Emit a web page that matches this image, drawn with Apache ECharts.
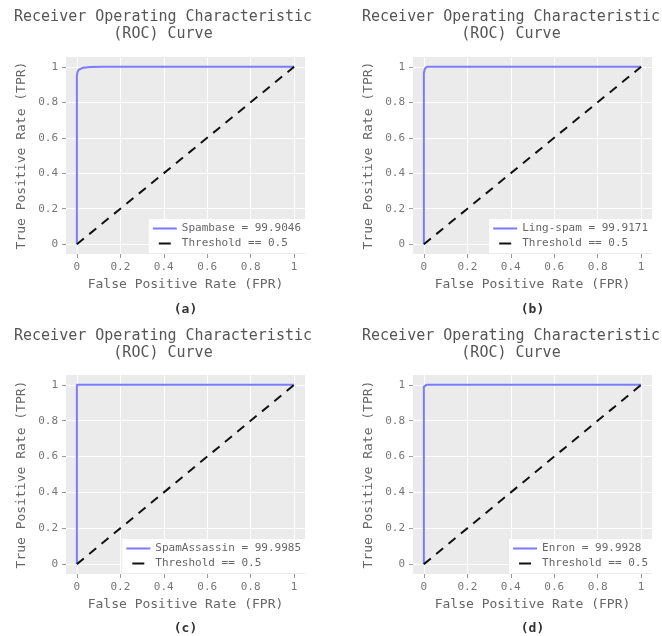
<!DOCTYPE html>
<html>
<head>
<meta charset="utf-8">
<script src="https://cdn.jsdelivr.net/npm/echarts@6/dist/echarts.min.js"></script>
<style>html,body{margin:0;padding:0;background:#fff}#c{width:662px;height:636px}</style>
</head>
<body>
<div id="c"></div>
<script>
// ---- data ----
const panelLabels = ['(a)', '(b)', '(c)', '(d)'];
const datasetNames = ['Spambase', 'Ling-spam', 'SpamAssassin', 'Enron'];
const aucValues = ['99.9046', '99.9171', '99.9985', '99.9928'];
const spambaseFPR = [0, 0, 0.003, 0.008, 0.015, 0.03, 0.06, 0.12, 1];
const spambaseTPR = [0, 0.95, 0.97, 0.983, 0.99, 0.995, 0.998, 1, 1];
const lingFPR = [0, 0, 0.005, 0.015, 0.5, 1];
const lingTPR = [0, 0.965, 0.99, 1, 1, 1];
const assassinFPR = [0, 0, 0.5, 1];
const assassinTPR = [0, 1, 1, 1];
const enronFPR = [0, 0, 0.012, 0.5, 1];
const enronTPR = [0, 0.99, 1, 1, 1];
const thresholdFPR = [0, 1];
const thresholdTPR = [0, 1];
const thresholdLabel = 'Threshold == 0.5';
const tickValues = [0, 0.2, 0.4, 0.6, 0.8, 1];
const tickLabels = ['0', '0.2', '0.4', '0.6', '0.8', '1'];
const titleLine1 = 'Receiver Operating Characteristic';
const titleLine2 = '(ROC) Curve';
const xTitle = 'False Positive Rate (FPR)';
const yTitle = 'True Positive Rate (TPR)';

const curves = [
  [spambaseFPR, spambaseTPR],
  [lingFPR, lingTPR],
  [assassinFPR, assassinTPR],
  [enronFPR, enronTPR]
];
const zip = (a, b) => a.map((v, i) => [v, b[i]]);

// ---- layout ----
const FONT = '"DejaVu Sans Mono", monospace';
const W = 662, H = 636;
const grids = [
  { left: 66, top: 57, width: 239, height: 197 },
  { left: 413, top: 57, width: 239, height: 197 },
  { left: 66, top: 375, width: 239, height: 199 },
  { left: 413, top: 375, width: 239, height: 199 }
];
const titleCenters = [163, 511];
const titleY = [[17, 34], [336, 353]];
const subY = [310, 629];
const BLUE = '#7b7bfa';

const option = {
  animation: false,
  backgroundColor: '#fff',
  grid: grids.map(g => ({ left: g.left, top: g.top, width: g.width, height: g.height,
    backgroundColor: '#ebebeb', show: true, borderWidth: 0, containLabel: false })),
  xAxis: grids.map((g, i) => ({
    gridIndex: i, type: 'value', min: -0.05, max: 1.05,
    name: xTitle, nameLocation: 'middle', nameGap: 24,
    nameTextStyle: { fontFamily: FONT, fontSize: 13, color: '#666' },
    axisLine: { show: false, onZero: false },
    axisTick: { show: true, length: 4, customValues: tickValues, lineStyle: { color: '#999' } },
    axisLabel: { customValues: tickValues, margin: 8, fontFamily: FONT, fontSize: 11, color: '#777',
      formatter: v => tickLabels[tickValues.indexOf(Math.round(v * 10) / 10)] },
    splitLine: { show: true, lineStyle: { color: '#fff', width: 1 } }
  })),
  yAxis: grids.map((g, i) => ({
    gridIndex: i, type: 'value', min: -0.055, max: 1.055,
    name: yTitle, nameLocation: 'middle', nameGap: 38,
    nameTextStyle: { fontFamily: FONT, fontSize: 13, color: '#666' },
    axisLine: { show: false, onZero: false },
    axisTick: { show: true, length: 4, customValues: tickValues, lineStyle: { color: '#999' } },
    axisLabel: { customValues: tickValues, margin: 8, fontFamily: FONT, fontSize: 11, color: '#777',
      formatter: v => tickLabels[tickValues.indexOf(Math.round(v * 10) / 10)] },
    splitLine: { show: true, lineStyle: { color: '#fff', width: 1 } }
  })),
  legend: grids.map((g, i) => ({
    orient: 'vertical',
    right: W - (g.left + g.width),
    bottom: H - (g.top + g.height) + 1,
    backgroundColor: '#fff',
    padding: [4, 4, 4, 3],
    itemGap: 4,
    itemWidth: 24,
    itemHeight: 10,
    textStyle: { fontFamily: FONT, fontSize: 11, color: '#666' },
    data: [
      { name: datasetNames[i] + ' = ' + aucValues[i], itemStyle: { opacity: 0 },
        lineStyle: { width: 2, type: 'solid' } },
      { name: thresholdLabel + '\u200b'.repeat(i), itemStyle: { opacity: 0 },
        lineStyle: { width: 2, type: [12, 20], dashOffset: 26 } }
    ]
  })),
  series: [],
  graphic: []
};

curves.forEach((c, i) => {
  option.series.push({
    type: 'line', name: datasetNames[i] + ' = ' + aucValues[i],
    xAxisIndex: i, yAxisIndex: i, data: zip(c[0], c[1]),
    symbol: 'none', smooth: false,
    lineStyle: { color: BLUE, width: 2 }, itemStyle: { color: BLUE }
  });
  option.series.push({
    type: 'line', name: thresholdLabel + '\u200b'.repeat(i),
    xAxisIndex: i, yAxisIndex: i, data: zip(thresholdFPR, thresholdTPR),
    symbol: 'none',
    lineStyle: { color: '#111', width: 2, type: [9, 7] }, itemStyle: { color: '#111' }
  });
});

grids.forEach((g, i) => {
  const row = Math.floor(i / 2), col = i % 2;
  option.graphic.push({ type: 'text', x: titleCenters[col], y: titleY[row][0],
    style: { text: titleLine1, font: '15px ' + FONT, fill: '#555', align: 'center', verticalAlign: 'middle' } });
  option.graphic.push({ type: 'text', x: titleCenters[col], y: titleY[row][1],
    style: { text: titleLine2, font: '15px ' + FONT, fill: '#555', align: 'center', verticalAlign: 'middle' } });
  option.graphic.push({ type: 'text', x: g.left + g.width / 2, y: subY[row],
    style: { text: panelLabels[i], font: 'bold 13px ' + FONT, fill: '#333', align: 'center', verticalAlign: 'middle' } });
});

const chart = echarts.init(document.getElementById('c'), null, { renderer: 'canvas' });
chart.setOption(option);
</script>
</body>
</html>
